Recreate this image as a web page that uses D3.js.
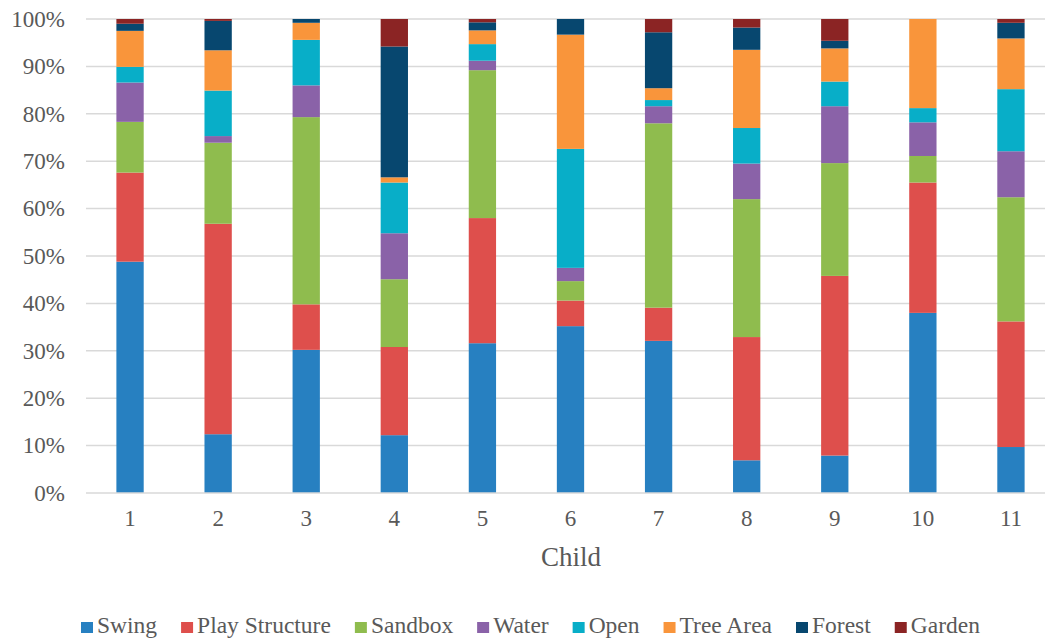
<!DOCTYPE html>
<html>
<head>
<meta charset="utf-8">
<script src="https://cdn.jsdelivr.net/npm/d3@7"></script>
<style>
  html, body { margin: 0; padding: 0; background: #fff; overflow: hidden; }
  svg { display: block; }
  text { font-family: "Liberation Serif", "Times New Roman", Times, serif; fill: #595959; }
</style>
</head>
<body>
<svg id="chart" width="1045" height="638"></svg>
<script>
// Share of time each child spent in each play zone (percent)
const children = ["1", "2", "3", "4", "5", "6", "7", "8", "9", "10", "11"];
const seriesNames = ["Swing", "Play Structure", "Sandbox", "Water", "Open", "Tree Area", "Forest", "Garden"];
const seriesColors = ["#2780c1", "#de4f4c", "#8fbc4e", "#8a62a8", "#08aec8", "#f9953b", "#07476f", "#8b2424"];

const swing         = [48.8, 12.4, 30.2, 12.2, 31.6, 35.2, 32.1,  6.9,  7.9, 38.0,  9.7];
const playStructure = [18.8, 44.4,  9.6, 18.6, 26.4,  5.4,  7.0, 26.0, 37.9, 27.5, 26.5];
const sandbox       = [10.7, 17.1, 39.5, 14.3, 31.2,  4.1, 38.9, 29.1, 23.8,  5.6, 26.2];
const water         = [ 8.3,  1.4,  6.7,  9.7,  2.0,  2.8,  3.6,  7.5, 12.0,  7.1,  9.7];
const open          = [ 3.3,  9.6,  9.6, 10.7,  3.5, 25.1,  1.3,  7.5,  5.2,  3.0, 13.1];
const treeArea      = [ 7.6,  8.5,  3.6,  1.1,  2.9, 24.1,  2.5, 16.5,  7.0, 18.8, 10.7];
const forest        = [ 1.5,  6.2,  0.8, 27.6,  1.7,  3.3, 11.8,  4.7,  1.6,  0.0,  3.3];
const garden        = [ 1.0,  0.4,  0.0,  5.8,  0.7,  0.0,  2.8,  1.8,  4.6,  0.0,  0.8];

const yTicks = [0, 10, 20, 30, 40, 50, 60, 70, 80, 90, 100];
const xTitle = "Child";

const FONT = '"Liberation Serif", "Times New Roman", Times, serif';
const LABEL_SIZE = "23px";

// Build row records for d3.stack
const seriesValues = [swing, playStructure, sandbox, water, open, treeArea, forest, garden];
const rows = children.map((c, i) => {
  const r = { child: c };
  seriesNames.forEach((s, k) => { r[s] = seriesValues[k][i]; });
  return r;
});

const svg = d3.select("#chart").attr("font-family", FONT);
const plot = { left: 86, right: 1055, top: 19, bottom: 493 };

const x = d3.scaleBand()
  .domain(children)
  .range([plot.left, plot.right])
  .paddingInner(0.69)
  .paddingOuter(0.345);

const y = d3.scaleLinear()
  .domain([0, 100])
  .range([plot.bottom, plot.top]);

// Horizontal gridlines
svg.append("g")
  .selectAll("line")
  .data(yTicks.filter(t => t > 0))
  .join("line")
  .attr("x1", plot.left)
  .attr("x2", plot.right)
  .attr("y1", d => y(d))
  .attr("y2", d => y(d))
  .attr("stroke", "#d9d9d9")
  .attr("stroke-width", 1.5);

// Stacked bars
const stacked = d3.stack().keys(seriesNames)(rows);
const color = d3.scaleOrdinal().domain(seriesNames).range(seriesColors);

svg.append("g")
  .selectAll("g")
  .data(stacked)
  .join("g")
  .attr("fill", d => color(d.key))
  .selectAll("rect")
  .data(d => d)
  .join("rect")
  .attr("x", d => x(d.data.child))
  .attr("width", x.bandwidth())
  .attr("y", d => y(d[1]))
  .attr("height", d => Math.max(0, y(d[0]) - y(d[1])));

// Baseline (category axis)
svg.append("line")
  .attr("x1", plot.left)
  .attr("x2", plot.right)
  .attr("y1", y(0))
  .attr("y2", y(0))
  .attr("stroke", "#d9d9d9")
  .attr("stroke-width", 1.5);

// Y axis labels
const yAxis = d3.axisLeft(y)
  .tickValues(yTicks)
  .tickFormat(d => d + "%")
  .tickSize(0)
  .tickPadding(21);
const gy = svg.append("g")
  .attr("transform", `translate(${plot.left},0)`)
  .call(yAxis)
  .attr("font-family", FONT);
gy.select(".domain").remove();
gy.selectAll("text")
  .attr("font-family", FONT)
  .style("font-size", LABEL_SIZE)
  .style("fill", "#595959");

// X axis labels
const xAxis = d3.axisBottom(x).tickSize(0).tickPadding(17);
const gx = svg.append("g")
  .attr("transform", `translate(0,${plot.bottom})`)
  .call(xAxis)
  .attr("font-family", FONT);
gx.select(".domain").remove();
gx.selectAll("text")
  .attr("font-family", FONT)
  .style("font-size", LABEL_SIZE)
  .style("fill", "#595959");

// X axis title
svg.append("text")
  .attr("x", 571)
  .attr("y", 566)
  .attr("text-anchor", "middle")
  .style("font-size", "27px")
  .text(xTitle);

// Legend
const legend = svg.append("g");
const items = legend.selectAll("g")
  .data(seriesNames)
  .join("g");
items.append("rect")
  .attr("width", 12)
  .attr("height", 11)
  .attr("y", -11)
  .attr("fill", d => color(d));
items.append("text")
  .attr("x", 16)
  .attr("y", 0)
  .style("font-size", "23.5px")
  .text(d => d);

let cursor = 0;
const GAP = 24;
items.each(function () {
  const g = d3.select(this);
  g.attr("transform", `translate(${cursor},0)`);
  const w = g.select("text").node().getComputedTextLength();
  cursor += 16 + w + GAP;
});
legend.attr("transform", "translate(81,633)");
</script>
</body>
</html>
